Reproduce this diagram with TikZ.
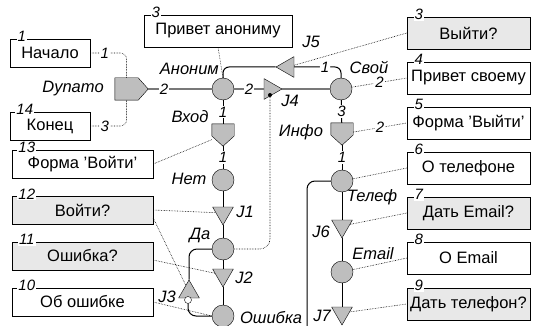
\documentclass[tikz,border=0pt]{standalone}
\usepackage{fontspec}
\setmainfont{Liberation Sans}
\usetikzlibrary{shapes.geometric,positioning}

\definecolor{shapegray}{RGB}{190,190,190}
\definecolor{boxgray}{RGB}{232,232,232}
\definecolor{linegray}{RGB}{120,120,120}

\begin{document}
\begin{tikzpicture}[x=1pt, y=-1pt,
    state/.style={circle, draw, fill=shapegray, minimum size=22pt, inner sep=0pt},
    junc/.style={regular polygon, regular polygon sides=3, draw, fill=shapegray, minimum size=24pt, inner sep=0pt},
    port/.style={inner sep=0pt},
    portfill/.style={draw, fill=shapegray, line join=miter},
    form/.style={draw, fill=white, minimum height=28pt, inner sep=0pt, font=\fontsize{16.5}{19}\selectfont},
    askform/.style={form, fill=boxgray},
    num/.style={font=\fontsize{15}{17}\selectfont\itshape, text=black, inner sep=1pt, fill=white},
    tag/.style={font=\fontsize{16.5}{19}\selectfont\itshape, inner sep=0pt},
    flow/.style={line width=1pt},
    mainline/.style={line width=1.2pt, linegray},
    link/.style={densely dotted, line width=0.6pt}]

    \useasboundingbox (0,0) rectangle (540,326);

    % Forms on the left
    \node[form, minimum width=80pt, label={[num, anchor=center, xshift=12pt, yshift=2pt]north west:1}] (nachalo) at (50,53) {Начало};
    \node[form, minimum width=80pt, label={[num, anchor=center, xshift=15pt, yshift=2pt]north west:14}] (konec) at (50,126) {Конец};
    \node[form, minimum width=141pt, label={[num, anchor=center, xshift=15pt, yshift=2pt]north west:13}] (formvh) at (82.5,164) {Форма 'Войти'};
    \node[askform, minimum width=141pt, label={[num, anchor=center, xshift=15pt, yshift=2pt]north west:12}] (voyti) at (82.5,210) {Войти?};
    \node[askform, minimum width=141pt, label={[num, anchor=center, xshift=15pt, yshift=2pt]north west:11}] (oshq) at (82.5,256) {Ошибка?};
    \node[form, minimum width=141pt, label={[num, anchor=center, xshift=15pt, yshift=2pt]north west:10}] (obosh) at (82.5,302) {Об ошибке};

    % Forms on the right
    \node[form, minimum width=148pt, minimum height=32pt, label={[num, anchor=center, xshift=12pt, yshift=2pt]north west:3}] (privan) at (218,31) {Привет анониму};
    \node[askform, minimum width=123pt, minimum height=32pt, label={[num, anchor=center, xshift=12pt, yshift=2pt]north west:3}] (vyiti) at (468.5,33) {Выйти?};
    \node[form, minimum width=123pt, minimum height=32pt, label={[num, anchor=center, xshift=12pt, yshift=2pt]north west:4}] (privsv) at (468.5,78) {Привет своему};
    \node[form, minimum width=123pt, minimum height=32pt, label={[num, anchor=center, xshift=12pt, yshift=2pt]north west:5}] (formvy) at (468.5,123) {Форма 'Выйти'};
    \node[form, minimum width=123pt, minimum height=32pt, label={[num, anchor=center, xshift=12pt, yshift=2pt]north west:6}] (otel) at (468.5,168) {О телефоне};
    \node[askform, minimum width=123pt, minimum height=32pt, label={[num, anchor=center, xshift=12pt, yshift=2pt]north west:7}] (demail) at (468.5,213) {Дать Email?};
    \node[form, minimum width=123pt, minimum height=32pt, label={[num, anchor=center, xshift=12pt, yshift=2pt]north west:8}] (oemail) at (468.5,258) {О Email};
    \node[askform, minimum width=123pt, minimum height=32pt, label={[num, anchor=center, xshift=12pt, yshift=2pt]north west:9}] (dtel) at (468.5,304) {Дать телефон?};

    % Machine
    \node[port, minimum width=33pt, minimum height=22pt] (dynamo) at (131.5,89) {};
    \filldraw[portfill] (dynamo.north west) -- ([xshift=-10pt]dynamo.north east) -- (dynamo.east)
        -- ([xshift=-10pt]dynamo.south east) -- (dynamo.south west) -- cycle;
    \node[state] (anon) at (223,89) {};
    \node[junc, shape border rotate=-90] (j4) at (270,89) {};
    \node[circle, fill, inner sep=0pt, minimum size=4pt] (j4dot) at (270,95) {};
    \node[junc, shape border rotate=90] (j5) at (288,67) {};
    \node[state] (svoy) at (341,89) {};

    \node[port, minimum width=22pt, minimum height=22pt] (vhod) at (223,135) {};
    \filldraw[portfill] (vhod.north west) -- (vhod.north east) -- ([yshift=-1pt]vhod.east)
        -- (vhod.south) -- ([yshift=-1pt]vhod.west) -- cycle;
    \node[state] (net) at (223,180) {};
    \node[junc, shape border rotate=180] (j1) at (223,213) {};
    \node[state] (da) at (223,249) {};
    \node[junc, shape border rotate=180] (j2) at (223,275) {};
    \node[junc] (j3) at (189,292) {};
    \node[circle, draw, fill=white, inner sep=0pt, minimum size=7pt] (j3pin) at (188,300) {};
    \node[state] (osh) at (223,316) {};

    \node[port, minimum width=22pt, minimum height=22pt] (info) at (342,134) {};
    \filldraw[portfill] (info.north west) -- (info.north east) -- ([yshift=-1pt]info.east)
        -- (info.south) -- ([yshift=-1pt]info.west) -- cycle;
    \node[state] (tel) at (342,181) {};
    \node[junc, shape border rotate=180] (j6) at (342,226) {};
    \node[state] (email) at (342,272) {};
    \node[junc, shape border rotate=180] (j7) at (342,313) {};
    \coordinate (telend) at (307,326);

    % Names
    \node[tag, anchor=east] (tdyn) at (104,89) {Dynamo};
    \node[tag, anchor=east] (tanon) at (219,69) {Аноним};
    \node[tag] (tsvoy) at (369,67) {Свой};
    \node[tag] (tvhod) at (190,117) {Вход};
    \node[tag] (tinfo) at (301,132) {Инфо};
    \node[tag] (tnet) at (189,179) {Нет};
    \node[tag] (tda) at (200,235) {Да};
    \node[tag] (tosh) at (271,318) {Ошибка};
    \node[tag] (ttel) at (372,197) {Телеф};
    \node[tag] (temail) at (373,254) {Email};
    \node[tag] (tj1) at (245,212) {J1};
    \node[tag] (tj2) at (244,278) {J2};
    \node[tag] (tj3) at (167,297) {J3};
    \node[tag] (tj4) at (290,101) {J4};
    \node[tag] (tj5) at (311,42) {J5};
    \node[tag] (tj6) at (321,232) {J6};
    \node[tag] (tj7) at (322,316) {J7};

    % Transitions
    \draw[mainline] (dynamo.east) -- node[num, pos=0.25] {2} (anon);
    \draw[mainline] (anon) -- node[num] {2} (j4);
    \draw[mainline] (j4) -- (svoy);
    \draw[flow, rounded corners=6] (svoy.north) |- node[num, pos=0.67] {1} (j5.east);
    \draw[flow, rounded corners=6] (j5.west) -| (anon.north);
    \draw[flow] (anon) -- node[num] {1} (vhod);
    \draw[flow] (vhod) -- node[num] {1} (net);
    \draw[flow] (net) -- (j1);
    \draw[flow] (j1) -- (da);
    \draw[flow] (da) -- (j2);
    \draw[flow] (j2) -- (osh);
    \draw[flow, rounded corners=8] (da.west) -| (j3.north);
    \draw[flow, rounded corners=8] (j3pin.south) |- (osh.west);
    \draw[flow] (svoy) -- node[num] {3} (info);
    \draw[flow] (info) -- node[num] {1} (tel);
    \draw[flow] (tel) -- (j6);
    \draw[flow] (j6) -- (email);
    \draw[flow] (email) -- (j7);
    \draw[flow, rounded corners=8] (tel.west) -| (telend);

    % Links to forms
    \draw[link, rounded corners=6] (nachalo.east) -| node[num, pos=0.2] {1} ([xshift=-5pt]dynamo.north);
    \draw[link, rounded corners=6] (konec.east) -| node[num, pos=0.2] {3} ([xshift=-5pt]dynamo.south);
    \draw[link] (privan.south) -- (anon.north);
    \draw[link] (j5) -- (vyiti.west);
    \draw[link] (svoy) -- node[num] {2} (privsv.west);
    \draw[link] (info) -- node[num] {2} (formvy.west);
    \draw[link] (tel) -- (otel.west);
    \draw[link] (j6) -- (demail.west);
    \draw[link] (email) -- (oemail.west);
    \draw[link] (j7) -- (dtel.west);
    \draw[link] (vhod) -- (formvh.east);
    \draw[link] (voyti.east) -- (j1);
    \draw[link] ([yshift=-8pt]voyti.east) -- (j3);
    \draw[link] ([yshift=-4pt]oshq.east) -- (j2);
    \draw[link] (obosh.east) -- (osh.west);
    \draw[link, rounded corners=10] (j4dot) |- (da.east);
\end{tikzpicture}
\end{document}
